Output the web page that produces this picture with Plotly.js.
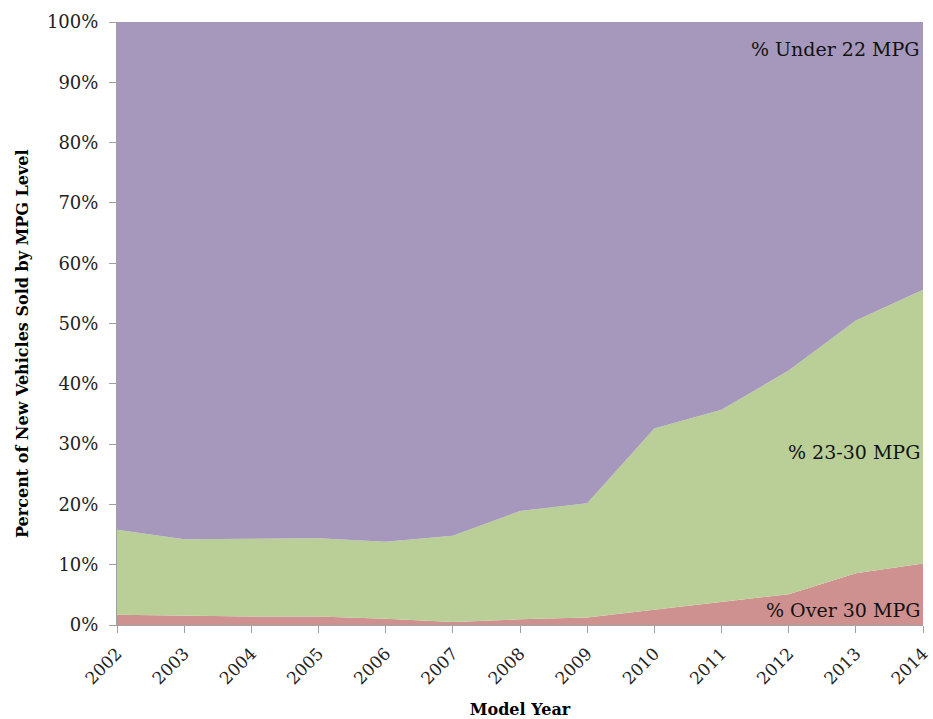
<!DOCTYPE html>
<html><head><meta charset="utf-8">
<script src="https://cdn.plot.ly/plotly-3.0.1.min.js"></script>
<style>html,body{margin:0;padding:0;background:#fff}#chart{width:933px;height:719px}</style>
</head><body><div id="chart"></div>
<script>
const years = [2002,2003,2004,2005,2006,2007,2008,2009,2010,2011,2012,2013,2014];
// percent of vehicles over 30 MPG
const over30 = [1.7,1.5,1.4,1.4,1.05,0.5,0.95,1.25,2.5,3.8,5.1,8.6,10.2];
// percent 23-30 MPG
const mid2330 = [14.1,12.7,12.9,13.0,12.75,14.3,17.95,18.95,30.1,31.9,37.1,41.9,45.4];
// percent under 22 MPG
const under22 = [84.2,85.8,85.7,85.6,86.2,85.2,81.1,79.8,67.4,64.3,57.8,49.5,44.4];
const seriesNames = ['% Over 30 MPG','% 23-30 MPG','% Under 22 MPG'];
const colors = ['#CF9190','#B9CF97','#A698BC'];
const xTitle = 'Model Year';
const yTitle = 'Percent of New Vehicles Sold by MPG Level';

const font = 'DejaVu Serif, serif';
const data = [over30, mid2330, under22].map((v,i)=>({
  x: years, y: v, name: seriesNames[i], type:'scatter', mode:'lines',
  stackgroup:'one', line:{width:0, color:colors[i]}, fillcolor:colors[i], hoverinfo:'skip'
}));

const layout = {
  width:933, height:719,
  margin:{l:117, r:10, t:22, b:94},
  paper_bgcolor:'#fff', plot_bgcolor:'#fff',
  showlegend:false,
  font:{family:font, color:'#000', size:17},
  xaxis:{
    range:[2002,2014], tickmode:'array', tickvals:years, ticktext:years.map(String),
    tickangle:-45, ticks:'outside', ticklen:7, tickcolor:'#a0a0a0', ticklabelstandoff:4, ticklabeloverflow:'allow',
    showline:true, linecolor:'#a0a0a0', linewidth:1, showgrid:false, zeroline:false,
    tickfont:{family:font, size:17, color:'#222'},
    title:{text:'<b>'+xTitle+'</b>', font:{family:font, size:16, color:'#000'}, standoff:24}
  },
  yaxis:{
    range:[0,100], dtick:10, ticksuffix:'%', ticks:'outside', ticklen:7, tickcolor:'#a0a0a0', ticklabelstandoff:7,
    showline:true, linecolor:'#a0a0a0', linewidth:1, showgrid:false, zeroline:false,
    tickfont:{family:font, size:18, color:'#222'}
  },
  annotations:[
    {x:0, xref:'paper', xanchor:'center', xshift:-95, y:46.6, yref:'y', yanchor:'middle', textangle:-90,
     text:'<b>'+yTitle+'</b>', showarrow:false, font:{family:font,size:16,color:'#000'}},
    {x:1, xref:'paper', xanchor:'right', xshift:-1, y:95.6, yref:'y', text:seriesNames[2], showarrow:false, font:{family:font,size:19,color:'#111'}},
    {x:1, xref:'paper', xanchor:'right', xshift:-1, y:28.7, yref:'y', text:seriesNames[1], showarrow:false, font:{family:font,size:19,color:'#111'}},
    {x:1, xref:'paper', xanchor:'right', xshift:-1, y:2.5, yref:'y', text:seriesNames[0], showarrow:false, font:{family:font,size:19,color:'#111'}}
  ]
};
Plotly.newPlot('chart', data, layout, {displayModeBar:false, staticPlot:true});
</script></body></html>
